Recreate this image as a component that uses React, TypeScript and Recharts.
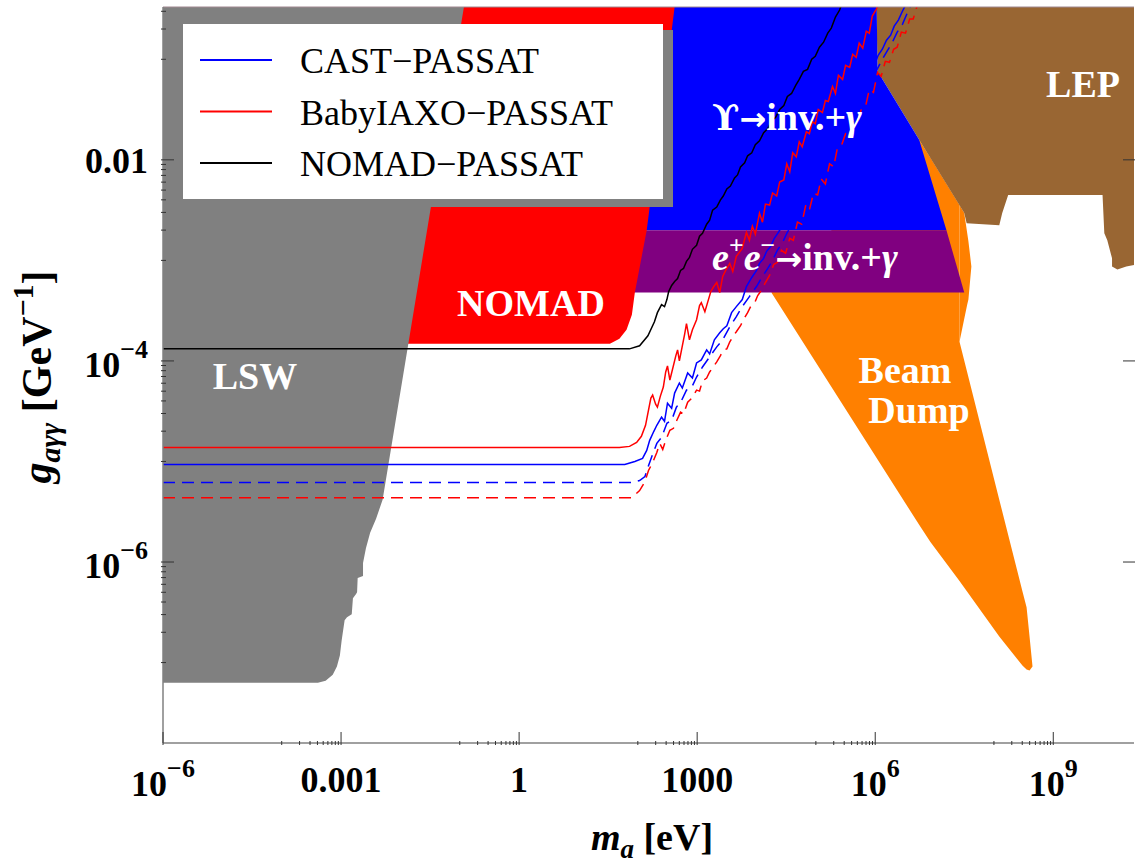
import React from "react";
import { ComposedChart, Area, Line, XAxis, YAxis } from "recharts";

const W = 1135;
const H = 863;
const SERIF = "'Liberation Serif', 'Times New Roman', serif";

// frame limits, in decades
const X_LOG = [-6, 10.36];
const Y_LOG = [-7.8, -0.48];
const OPEN_TOP = -0.3; // regions keep going above the frame

// ---- excluded regions, log10(m_a/eV) vs log10(g/GeV^-1) ----
// LSW: lower edge, open upwards
const lswLogM = [-6.0, -3.39, -3.26, -3.14, -3.07, -3.02, -2.99, -2.94, -2.9, -2.82, -2.8, -2.75, -2.73, -2.72, -2.63, -2.63, -2.58, -2.51, -2.41, -2.3, -0.93];
const lswLogG = [-7.2, -7.2, -7.18, -7.12, -7.04, -6.93, -6.78, -6.58, -6.55, -6.52, -6.36, -6.32, -6.3, -6.16, -6.14, -6.01, -5.86, -5.71, -5.57, -5.38, -0.48];

// NOMAD: lower edge, open upwards
const nomadLogM = [-2.01, 1.53, 1.69, 1.81, 1.9, 1.95, 2.15, 2.2, 2.62];
const nomadLogG = [-3.83, -3.83, -3.78, -3.69, -3.54, -3.32, -2.7, -2.47, -0.48];

// Upsilon -> inv. + gamma
const upsLogM = [2.03, 6.02, 6.04, 6.74, 7.2];
const upsLogGLow = [-2.7, -2.7, -2.7, -2.7, -2.7];
const upsLogGHigh = [-0.3, -0.3, -1.12, -1.8, -2.7];

// e+e- -> inv. + gamma
const eeLogM = [1.86, 7.2, 7.5];
const eeLogGLow = [-3.32, -3.32, -3.32];
const eeLogGHigh = [-2.7, -2.7, -3.32];

// beam dump, main body and the small cap right of the notch
const bdLogM = [4.25, 6.74, 6.93, 7.42, 7.42, 8.09, 8.48, 8.55, 8.6, 8.65];
const bdLogGLow = [-3.32, -5.63, -5.8, -6.19, -6.19, -6.74, -7.03, -7.07, -7.08, -7.04];
const bdLogGHigh = [-3.32, -1.8, -1.98, -2.45, -3.81, -5.38, -6.29, -6.45, -6.74, -7.04];
const bdCapLogM = [7.42, 7.5, 7.55, 7.57, 7.62];
const bdCapLogGLow = [-3.81, -3.58, -3.44, -3.39, -3.06];
const bdCapLogGHigh = [-2.45, -2.53, -2.73, -2.81, -3.06];

// LEP: lower edge, open upwards
const lepLogM = [6.02, 6.04, 6.74, 7.5, 7.54, 8.09, 8.14, 8.24, 9.83, 9.86, 9.91, 9.99, 9.99, 10.08, 10.23, 10.5];
const lepLogG = [-0.48, -1.12, -1.8, -2.53, -2.63, -2.65, -2.53, -2.35, -2.35, -2.73, -2.8, -2.98, -3.06, -3.09, -3.06, -3.03];

// ---- PASSAT sensitivity curves ----
const nomadPassatLogM = [-6, 1.86, 2.03, 2.17, 2.28, 2.33, 2.4, 2.45, 2.49, 2.52, 2.57, 2.62, 2.67, 2.72, 2.77, 2.82, 2.87, 2.92, 2.99, 3.04, 3.09, 3.16, 3.21, 3.26, 3.33, 3.39, 3.44, 3.5, 3.56, 3.63, 3.68, 3.73, 3.8, 3.85, 3.92, 3.98, 4.05, 4.12, 4.19, 4.25, 4.32, 4.39, 4.46, 4.52, 4.59, 4.66, 4.72, 4.79, 4.86, 4.93, 4.99, 5.06, 5.13, 5.2, 5.26, 5.33, 5.4, 5.45];
const nomadPassatLogG = [-3.88, -3.88, -3.85, -3.75, -3.61, -3.52, -3.44, -3.46, -3.39, -3.31, -3.25, -3.21, -3.18, -3.1, -3.08, -3.01, -2.97, -2.89, -2.85, -2.76, -2.73, -2.64, -2.6, -2.5, -2.47, -2.4, -2.36, -2.29, -2.26, -2.18, -2.15, -2.07, -2.03, -1.96, -1.93, -1.85, -1.81, -1.73, -1.69, -1.61, -1.58, -1.5, -1.46, -1.37, -1.34, -1.26, -1.2, -1.12, -1.1, -1.0, -0.97, -0.88, -0.83, -0.74, -0.69, -0.58, -0.51, -0.43];

const babyLogM = [-6, 1.69, 1.86, 1.98, 2.06, 2.13, 2.18, 2.22, 2.25, 2.3, 2.33, 2.38, 2.43, 2.47, 2.5, 2.54, 2.59, 2.64, 2.67, 2.7, 2.75, 2.79, 2.82, 2.87, 2.92, 2.99, 3.04, 3.07, 3.13, 3.18, 3.23, 3.28, 3.33, 3.38, 3.43, 3.48, 3.55, 3.6, 3.66, 3.71, 3.76, 3.83, 3.88, 3.93, 3.98, 4.05, 4.1, 4.15, 4.22, 4.27, 4.34, 4.39, 4.46, 4.51, 4.56, 4.61, 4.67, 4.72, 4.77, 4.84, 4.89, 4.94, 4.99, 5.04, 5.11, 5.16, 5.21, 5.28, 5.33, 5.38, 5.45, 5.5, 5.57, 5.62, 5.68, 5.73, 5.79, 5.85, 5.9, 5.95, 6.02, 6.07];
const babyLogG = [-4.86, -4.86, -4.85, -4.81, -4.75, -4.64, -4.49, -4.37, -4.34, -4.43, -4.46, -4.35, -4.26, -4.11, -4.05, -4.19, -4.07, -3.95, -3.89, -4.0, -3.85, -3.73, -3.63, -3.79, -3.69, -3.59, -3.45, -3.42, -3.51, -3.41, -3.31, -3.26, -3.22, -3.32, -3.16, -3.1, -3.03, -3.11, -2.96, -2.92, -2.88, -2.72, -2.8, -2.66, -2.74, -2.53, -2.62, -2.44, -2.45, -2.33, -2.36, -2.22, -2.2, -2.04, -2.12, -1.93, -1.97, -1.82, -1.87, -1.72, -1.74, -1.62, -1.64, -1.5, -1.53, -1.41, -1.42, -1.27, -1.34, -1.16, -1.2, -1.06, -1.08, -0.95, -0.98, -0.84, -0.89, -0.72, -0.74, -0.57, -0.5, -0.43];

const castLogM = [-6, 1.78, 1.95, 2.08, 2.15, 2.2, 2.27, 2.32, 2.4, 2.45, 2.5, 2.57, 2.62, 2.7, 2.75, 2.84, 2.92, 2.99, 3.07, 3.16, 3.21, 3.29, 3.38, 3.44, 3.5, 3.58, 3.66, 3.76, 3.83, 3.92, 4.0, 4.05, 4.12, 4.17, 4.24, 4.3, 4.37, 4.44, 4.51, 4.57, 4.64, 4.71, 4.77, 4.84, 4.91, 4.98, 5.04, 5.11, 5.18, 5.25, 5.31, 5.38, 5.45, 5.52, 5.58, 5.65, 5.72, 5.79, 5.85, 5.92, 5.99, 6.05, 6.12, 6.19, 6.26, 6.32, 6.39, 6.46, 6.53];
const castLogG = [-5.03, -5.03, -5.0, -4.97, -4.89, -4.79, -4.7, -4.64, -4.56, -4.6, -4.42, -4.47, -4.32, -4.22, -4.27, -4.12, -4.17, -4.02, -3.99, -3.89, -3.93, -3.79, -3.72, -3.68, -3.65, -3.52, -3.46, -3.39, -3.26, -3.17, -3.1, -3.03, -2.98, -2.91, -2.86, -2.78, -2.72, -2.65, -2.6, -2.51, -2.45, -2.38, -2.32, -2.23, -2.18, -2.09, -2.04, -1.95, -1.9, -1.81, -1.76, -1.67, -1.61, -1.52, -1.47, -1.38, -1.32, -1.23, -1.18, -1.1, -1.05, -0.96, -0.9, -0.81, -0.76, -0.67, -0.61, -0.52, -0.44];

const castDashLogM = [-6, 1.9, 2.03, 2.12, 2.17, 2.23, 2.32, 2.4, 2.49, 2.57, 2.65, 2.74, 2.82, 2.91, 2.99, 3.09, 3.21, 3.33, 3.43, 3.55, 3.66, 3.76, 3.88, 4.0, 4.1, 4.19, 4.27, 4.35, 4.44, 4.52, 4.61, 4.69, 4.77, 4.86, 4.94, 5.03, 5.11, 5.2, 5.28, 5.36, 5.45, 5.53, 5.62, 5.7, 5.79, 5.87, 5.95, 6.04, 6.12, 6.21, 6.29, 6.37, 6.46, 6.54, 6.61];
const castDashLogG = [-5.21, -5.21, -5.19, -5.15, -5.06, -4.96, -4.82, -4.76, -4.62, -4.59, -4.46, -4.39, -4.29, -4.26, -4.16, -4.06, -3.96, -3.86, -3.79, -3.66, -3.56, -3.46, -3.36, -3.26, -3.16, -3.08, -3.0, -2.9, -2.82, -2.72, -2.64, -2.54, -2.46, -2.36, -2.28, -2.17, -2.09, -1.99, -1.91, -1.81, -1.73, -1.63, -1.55, -1.44, -1.36, -1.26, -1.18, -1.09, -1.0, -0.91, -0.83, -0.73, -0.65, -0.54, -0.45];

const babyDashLogM = [-6, 1.9, 2.03, 2.12, 2.18, 2.25, 2.32, 2.37, 2.42, 2.47, 2.54, 2.6, 2.65, 2.72, 2.77, 2.84, 2.91, 2.99, 3.04, 3.09, 3.16, 3.21, 3.28, 3.33, 3.39, 3.44, 3.5, 3.55, 3.61, 3.66, 3.73, 3.78, 3.85, 3.9, 3.97, 4.02, 4.08, 4.15, 4.22, 4.29, 4.35, 4.42, 4.49, 4.56, 4.62, 4.69, 4.76, 4.83, 4.89, 4.96, 5.03, 5.09, 5.16, 5.23, 5.3, 5.36, 5.43, 5.5, 5.57, 5.63, 5.7, 5.77, 5.84, 5.9, 5.97, 6.04, 6.1, 6.17, 6.24, 6.31, 6.37, 6.44, 6.51, 6.58, 6.64, 6.71, 6.78];
const babyDashLogG = [-5.36, -5.36, -5.29, -5.2, -5.09, -5.01, -4.91, -4.82, -4.88, -4.79, -4.69, -4.67, -4.6, -4.51, -4.53, -4.41, -4.37, -4.29, -4.3, -4.2, -4.17, -4.11, -4.05, -4.01, -3.95, -3.89, -3.88, -3.81, -3.75, -3.71, -3.65, -3.59, -3.52, -3.46, -3.42, -3.35, -3.3, -3.22, -3.15, -3.04, -3.02, -2.9, -2.93, -2.78, -2.8, -2.62, -2.64, -2.45, -2.5, -2.33, -2.35, -2.19, -2.24, -2.04, -2.07, -1.89, -1.86, -1.74, -1.76, -1.6, -1.62, -1.49, -1.46, -1.3, -1.33, -1.13, -1.17, -1.02, -1.03, -0.9, -0.88, -0.73, -0.74, -0.6, -0.6, -0.46, -0.43];

// ticks
const xMajorExp = [-6, -3, 0, 3, 6, 9];
const yMajorExp = [-2, -4, -6];
const plainLabels: Record<string, string> = { "-3": "0.001", "0": "1", "3": "1000", "-2": "0.01" };

const legendNames = ["CAST−PASSAT", "BabyIAXO−PASSAT", "NOMAD−PASSAT"];
const legendColors = ["#0000ff", "#ff0000", "#000000"];

type Band = { m: number; lo: number; hi: number };
const band = (logM: number[], lo: number[], hi: number[]): Band[] =>
  logM.map((m, i) => ({ m: 10 ** m, lo: 10 ** lo[i], hi: 10 ** hi[i] }));
const openTop = (logM: number[]) => logM.map(() => OPEN_TOP);
const curve = (logM: number[], logG: number[]) => logM.map((m, i) => ({ m: 10 ** m, g: 10 ** logG[i] }));
const rangeKey = (d: Band) => [d.lo, d.hi];

const logTicks = (majors: number[], lim: number[]) => {
  const out: number[] = [];
  majors.forEach((n) => {
    for (let k = 1; k <= 9; k++) out.push(k * 10 ** (n - 1));
    out.push(10 ** n);
  });
  return out.filter((v) => v >= 10 ** lim[0] * 0.999 && v <= 10 ** lim[1] * 1.001);
};
const xTicks = logTicks(xMajorExp, X_LOG);
const yTicks = logTicks([0, ...yMajorExp], Y_LOG);
const yMajorTicks = yMajorExp.map((n) => 10 ** n);

const decade = (v: number) => {
  const e = Math.log10(v);
  const r = Math.round(e);
  return Math.abs(e - r) < 1e-6 ? r : null;
};

const regions = [
  { key: "bd", data: band(bdLogM, bdLogGLow, bdLogGHigh), fill: "#ff8000" },
  { key: "bdCap", data: band(bdCapLogM, bdCapLogGLow, bdCapLogGHigh), fill: "#ff8000" },
  { key: "lep", data: band(lepLogM, lepLogG, openTop(lepLogM)), fill: "#996633" },
  { key: "ups", data: band(upsLogM, upsLogGLow, upsLogGHigh), fill: "#0000ff" },
  { key: "ee", data: band(eeLogM, eeLogGLow, eeLogGHigh), fill: "#800080" },
  { key: "nomad", data: band(nomadLogM, nomadLogG, openTop(nomadLogM)), fill: "#ff0000" },
  { key: "lsw", data: band(lswLogM, lswLogG, openTop(lswLogM)), fill: "#808080" },
];

const curves = [
  { key: "nomadPassat", data: curve(nomadPassatLogM, nomadPassatLogG), stroke: "#000000", dash: undefined },
  { key: "castDash", data: curve(castDashLogM, castDashLogG), stroke: "#0000ff", dash: "12 7" },
  { key: "babyDash", data: curve(babyDashLogM, babyDashLogG), stroke: "#ff0000", dash: "12 7" },
  { key: "cast", data: curve(castLogM, castLogG), stroke: "#0000ff", dash: undefined },
  { key: "baby", data: curve(babyLogM, babyLogG), stroke: "#ff0000", dash: undefined },
];

function TickText({ x, y, exp, anchor, sup }: { x: number; y: number; exp: number; anchor: string; sup: number }) {
  const plain = plainLabels[String(exp)];
  if (plain) {
    return (
      <text x={x} y={y} textAnchor={anchor} fontFamily={SERIF} fontWeight="bold" fontSize={36} fill="#000">
        {plain}
      </text>
    );
  }
  return (
    <text x={x} y={y + sup} textAnchor={anchor} fontFamily={SERIF} fontWeight="bold" fontSize={36} fill="#000">
      10
      <tspan dy={-19} fontSize={26}>
        {exp < 0 ? "−" + Math.abs(exp) : String(exp)}
      </tspan>
    </text>
  );
}

const BottomTick = (props: any) => {
  const { x, y, payload } = props;
  const e = decade(payload.value);
  const major = e !== null && xMajorExp.includes(e);
  return (
    <g>
      <line x1={x} x2={x} y1={y} y2={y - (major ? 13 : 4)} stroke="#333" strokeWidth={1} />
      {major && <TickText x={x} y={y + 47} exp={e as number} anchor="middle" sup={4} />}
    </g>
  );
};

const TopTick = (props: any) => {
  const { x, y, payload } = props;
  const e = decade(payload.value);
  const major = e !== null && xMajorExp.includes(e);
  return <line x1={x} x2={x} y1={y} y2={y + (major ? 13 : 4)} stroke="#333" strokeWidth={1} />;
};

const LeftTick = (props: any) => {
  const { x, y, payload } = props;
  const e = decade(payload.value);
  const major = e !== null && yMajorExp.includes(e);
  return (
    <g>
      <line x1={x} x2={x + (major ? 13 : 5)} y1={y} y2={y} stroke="#333" strokeWidth={1} />
      {major && <TickText x={x - 13} y={y + 13} exp={e as number} anchor="end" sup={3} />}
    </g>
  );
};

const RightTick = (props: any) => {
  const { x, y } = props;
  return <line x1={x} x2={x - 13} y1={y} y2={y} stroke="#333" strokeWidth={1} />;
};

function Overlay() {
  return (
    <svg width={W} height={H} style={{ position: "absolute", left: 0, top: 0, pointerEvents: "none" }} fontFamily={SERIF}>
      {/* legend with its drop shadow */}
      <rect x={193} y={30} width={480} height={177} fill="#808080" />
      <rect x={183} y={24} width={480} height={175} fill="#ffffff" />
      {legendNames.map((name, i) => (
        <g key={name}>
          <line x1={200} x2={272} y1={60 + i * 51.5} y2={60 + i * 51.5} stroke={legendColors[i]} strokeWidth={2} />
          <text x={300} y={73 + i * 51.5} fontSize={36} fill="#000">
            {name}
          </text>
        </g>
      ))}

      {/* region names */}
      <g fill="#ffffff" fontWeight="bold" fontSize={38}>
        <text x={255} y={389} textAnchor="middle">LSW</text>
        <text x={531} y={316} textAnchor="middle">NOMAD</text>
        <text x={712} y={130}>
          <tspan fontFamily="'DejaVu Serif', serif" fontSize={36}>ϒ</tspan>
          <tspan fontFamily="'DejaVu Sans', sans-serif" fontSize={32}>→</tspan>
          <tspan>inv.+</tspan>
          <tspan fontStyle="italic">γ</tspan>
        </text>
        <text x={712} y={270}>
          <tspan fontStyle="italic">e</tspan>
          <tspan fontSize={26} dy={-16}>+</tspan>
          <tspan fontStyle="italic" dy={16}>e</tspan>
          <tspan fontSize={26} dy={-16}>−</tspan>
          <tspan dy={16} fontFamily="'DejaVu Sans', sans-serif" fontSize={32}>→</tspan>
          <tspan>inv.+</tspan>
          <tspan fontStyle="italic">γ</tspan>
        </text>
        <text x={1083} y={97} textAnchor="middle">LEP</text>
        <text x={905} y={383} textAnchor="middle">Beam</text>
        <text x={919} y={423} textAnchor="middle">Dump</text>
      </g>

      {/* axis titles */}
      <text x={652} y={850} textAnchor="middle" fontSize={38} fontWeight="bold" fill="#000">
        <tspan fontStyle="italic">m</tspan>
        <tspan fontStyle="italic" fontSize={27} dy={8}>a</tspan>
        <tspan dy={-8}> [eV]</tspan>
      </text>
      <text transform="translate(51,377) rotate(-90)" textAnchor="middle" fontSize={42} fontWeight="bold" fill="#000">
        <tspan fontStyle="italic">g</tspan>
        <tspan fontStyle="italic" fontSize={30} dy={9}>aγγ</tspan>
        <tspan dy={-9}> [GeV</tspan>
        <tspan fontSize={30} dy={-18}>−1</tspan>
        <tspan dy={18}>]</tspan>
      </text>
    </svg>
  );
}

export default function App() {
  const xDomain = [10 ** X_LOG[0], 10 ** X_LOG[1]];
  const yDomain = [10 ** Y_LOG[0], 10 ** Y_LOG[1]];
  const frame = { stroke: "#808080", strokeWidth: 1.5 };
  return (
    <div style={{ position: "absolute", left: 0, top: 0, width: W, height: H, background: "#fff" }}>
      <ComposedChart width={W} height={H} margin={{ top: 2, right: 0, bottom: 0, left: 0 }}>
        <XAxis
          dataKey="m" type="number" scale="log" domain={xDomain} allowDataOverflow
          ticks={xTicks} interval={0} height={120} tickSize={0} tickLine={false}
          tick={BottomTick} axisLine={frame}
        />
        <XAxis
          xAxisId="top" orientation="top" type="number" scale="log" domain={xDomain} allowDataOverflow
          ticks={xTicks} interval={0} height={5} tickSize={0} tickLine={false}
          tick={TopTick} axisLine={{ stroke: "#a08890", strokeWidth: 1 }}
        />
        <YAxis
          type="number" scale="log" domain={yDomain} allowDataOverflow
          ticks={yTicks} interval={0} width={163} tickSize={0} tickLine={false}
          tick={LeftTick} axisLine={frame}
        />
        <YAxis
          yAxisId="right" orientation="right" type="number" scale="log" domain={yDomain} allowDataOverflow
          ticks={yMajorTicks} interval={0} width={1} tickSize={0} tickLine={false}
          tick={RightTick} axisLine={false}
        />
        {regions.map((r) => (
          <Area
            key={r.key} data={r.data} dataKey={rangeKey} type="linear"
            stroke="none" fill={r.fill} fillOpacity={1}
            dot={false} activeDot={false} isAnimationActive={false}
          />
        ))}
        {curves.map((c) => (
          <Line
            key={c.key} data={c.data} dataKey="g" type="linear"
            stroke={c.stroke} strokeWidth={1.5} strokeDasharray={c.dash}
            dot={false} activeDot={false} isAnimationActive={false}
          />
        ))}
      </ComposedChart>
      <Overlay />
    </div>
  );
}
